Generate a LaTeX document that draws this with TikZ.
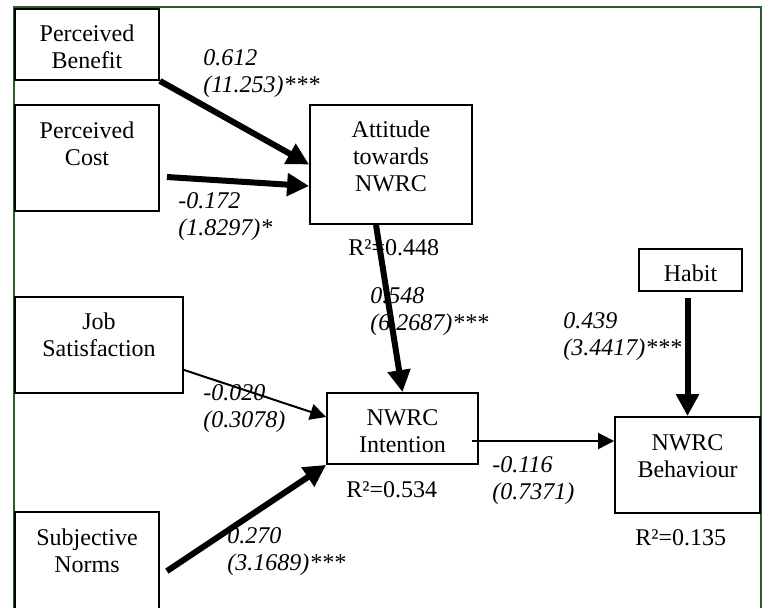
\documentclass[tikz,border=0pt]{standalone}
\usepackage{fontspec}
\setmainfont{Liberation Serif}
\usetikzlibrary{arrows.meta,calc}
\definecolor{framegreen}{RGB}{45,95,45}
\begin{document}
\begin{tikzpicture}[x=0.5pt,y=-0.5pt,
  box/.style={draw,line width=0.9pt,inner sep=0pt},
  txt/.style={font=\fontsize{12}{13.5}\selectfont,align=center,inner sep=0pt,anchor=base},
  coef/.style={font=\itshape\fontsize{12}{13.5}\selectfont,align=left,inner sep=0pt,anchor=base west},
  rsq/.style={font=\fontsize{12}{13.5}\selectfont,inner sep=0pt,anchor=base west},
  heavy/.style={line width=3pt,-{Triangle[length=11pt,width=11pt]}},
  light/.style={line width=1pt,-{Triangle[length=8pt,width=8pt]}}]
\useasboundingbox (0,0) rectangle (766,607);
\draw[framegreen,line width=0.6pt] (14,640) -- (14,7) -- (761,7) -- (761,640);
% boxes
\node[box,minimum width=72pt,minimum height=35.5pt] (pb) at (87,44.5) {};
\node[box,minimum width=72pt,minimum height=53pt] (pc) at (87,158) {};
\node[box,minimum width=81pt,minimum height=59.5pt] (att) at (391,164.5) {};
\node[box,minimum width=84pt,minimum height=48pt] (js) at (99,345) {};
\node[box,minimum width=75.5pt,minimum height=35.5pt] (int) at (402.5,428.5) {};
\node[box,minimum width=72pt,minimum height=56.5pt] (sn) at (87,568.5) {};
\node[box,minimum width=51.5pt,minimum height=21pt] (hab) at (690.5,270) {};
\node[box,minimum width=72.5pt,minimum height=48pt] (beh) at (687.5,465) {};
% box texts (anchor = baseline of last line)
\node[txt] (pbt) at (87,68) {Perceived\\Benefit};
\node[txt] (pct) at (87,165) {Perceived\\Cost};
\node[txt] (attt) at (391,191) {Attitude\\towards\\NWRC};
\node[txt] (jst) at (99,356) {Job\\Satisfaction};
\node[txt] (intt) at (402.5,452) {NWRC\\Intention};
\node[txt] (snt) at (87,572) {Subjective\\Norms};
\node[txt] (habt) at (690.5,281) {Habit};
\node[txt] (beht) at (687.5,477) {NWRC\\Behaviour};
% R squared
\node[rsq] (r1) at (348,255) {R²=0.448};
\node[rsq] (r2) at (346,497) {R²=0.534};
\node[rsq] (r3) at (635,545) {R²=0.135};
% connectors
\draw[heavy] (pb.south east) -- (att.west);
\draw[heavy] ($(pc.east)+(7,19)$) -- ($(att.west)+(0,21.5)$);
\draw[heavy] ($(att.south)+(-15,0)$) -- (int.north);
\draw[light] ($(js.south east)+(0,-24)$) -- ($(int.west)+(0,-11.5)$);
\draw[heavy] ($(sn.north east)+(7,60)$) -- (int.south west);
\draw[light] ($(int.east)+(-7,12.5)$) -- ($(beh.west)+(0,-24)$);
\draw[heavy] ($(hab.south -| beh.north)+(0,6)$) -- (beh.north);
% coefficients (anchor = baseline of last line)
\node[coef] (c1) at (203,92) {0.612\\(11.253)***};
\node[coef] (c2) at (178,235) {-0.172\\(1.8297)*};
\node[coef] (c3) at (370,330) {0.548\\(6.2687)***};
\node[coef] (c4) at (203,427) {-0.020\\(0.3078)};
\node[coef] (c5) at (227,570) {0.270\\(3.1689)***};
\node[coef] (c6) at (492,499) {-0.116\\(0.7371)};
\node[coef] (c7) at (563,355) {0.439\\(3.4417)***};
\end{tikzpicture}
\end{document}
